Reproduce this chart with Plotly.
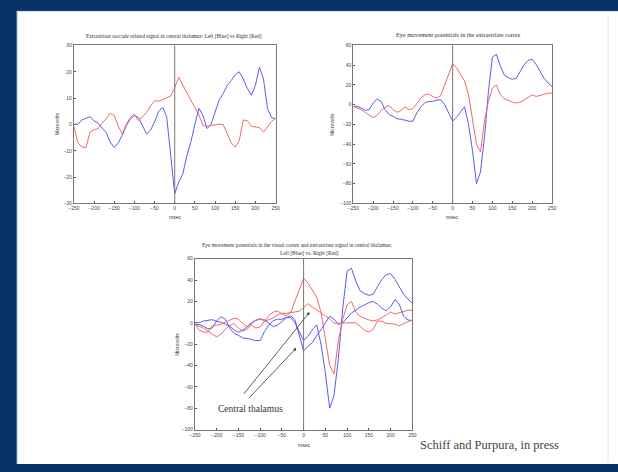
import plotly.graph_objects as go

# ---------------- data ----------------
time_ms = [-250, -240, -230, -220, -210, -200, -190, -180, -170, -160, -150,
           -140, -130, -120, -110, -100, -90, -80, -70, -60, -50, -40, -30,
           -20, -10, 0, 10, 20, 30, 40, 50, 60, 70, 80, 90, 100, 110, 120,
           130, 140, 150, 160, 170, 180, 190, 200, 210, 220, 230, 240, 250]

# central thalamus (extrastriate signal), Left = blue, Right = red
thal_left = [0, 0.1, 1.7, 2.2, 2.9, 1.4, 0.5, -1.4, -3.1, -6.7, -8.8,
             -7.0, -4.1, -0.5, 2.1, 3.4, 2.6, -0.4, -3.6, -2.2, 0.9, 4.9, 6.5,
             3.0, -12.0, -26.3, -21.9, -18.8, -12.0, -6.6, 0.0, 6.1, 3.4, -1.6,
             0.0, 4.9, 9.2, 11.7, 14.8, 16.7, 18.8, 20.0, 17.3, 13.6, 11.1,
             14.8, 21.7, 17.3, 6.1, 2.6, 2.1]
thal_right = [-0.7, -7.0, -8.6, -8.8, -2.9, -2.0, -1.6, 0.5, 2.1, 4.2, 3.4,
              -0.7, -3.6, 0.1, 2.6, 3.9, 1.4, 2.9, 4.5, 7.1, 9.0, 8.8, 9.6,
              10.1, 10.8, 14.0, 17.9, 14.8, 11.7, 9.2, 6.4, 3.6, -0.4, -0.7,
              -0.4, -0.1, 0.1, 0.0, -3.2, -7.0, -8.6, -6.1, 1.7, 1.4, -0.7,
              -0.9, -1.2, -2.9, -0.7, 1.1, 2.4]

# extrastriate cortex eye movement potentials
cortex_left = [-1.7, -1.7, -3.3, -5.7, -5.0, 1.7, 5.7, 3.3, -5.0, -10.0, -11.7,
               -14.3, -14.7, -16.0, -16.7, -16.7, -8.3, -2.3, 2.0, 3.3, 3.3, 4.7,
               5.0, 0.0, -8.3, -16.7, -12.7, -6.7, -2.0, -20.0, -46.7, -80.0,
               -68.0, -33.3, 13.3, 48.3, 51.0, 39.0, 30.0, 27.3, 25.7, 26.7,
               34.0, 40.7, 45.0, 46.0, 40.7, 33.3, 26.7, 22.0, 18.3]
cortex_right = [-1.7, -3.0, -5.0, -7.7, -10.7, -13.3, -10.7, -6.0, -2.7, -0.7,
                -5.0, -7.7, -6.0, -2.3, -5.0, -4.0, 1.3, 6.7, 10.0, 11.0, 8.3,
                6.7, 9.3, 20.0, 30.7, 41.7, 37.3, 30.0, 24.0, 10.0, -13.3, -40.0,
                -48.0, -16.7, 3.3, 16.7, 20.0, 10.0, 6.0, 4.0, 2.7, 1.7, 2.7,
                4.7, 7.3, 10.0, 8.3, 9.3, 10.7, 11.7, 11.7]

x_ticks = [-250, -200, -150, -100, -50, 0, 50, 100, 150, 200, 250]
y_ticks_thal = [-30, -20, -10, 0, 10, 20, 30]
y_ticks_ctx = [-100, -80, -60, -40, -20, 0, 20, 40, 60]

title1 = "Extrastriate saccade related signal in central thalamus: Left [Blue] vs Right [Red]"
title2 = "Eye movement potentials in the extrastriate cortex"
title3a = "Eye movement potentials in the visual cortex and extrastriate signal in central thalamus:"
title3b = "Left [Blue] vs. Right [Red]"
ylabel = "Microvolts"
xlabel = "msec"
note_label = "Central thalamus"
citation = "Schiff and Purpura, in press"

# ---------------- style ----------------
W, H = 618, 472
NAVY = "#06346a"
BLUE = "#5b5bef"
RED = "#f06a6a"
TICKFONT = dict(family="Liberation Sans", size=5, color="#444")


def px(x):
    return x / W


def py(y):
    return 1 - y / H


fig = go.Figure()

traces = [
    (thal_left, BLUE, "x", "y"), (thal_right, RED, "x", "y"),
    (cortex_left, BLUE, "x2", "y2"), (cortex_right, RED, "x2", "y2"),
    (cortex_left, BLUE, "x3", "y3"), (cortex_right, RED, "x3", "y3"),
    (thal_left, BLUE, "x3", "y3"), (thal_right, RED, "x3", "y3"),
]
for vals, col, xa, ya in traces:
    fig.add_trace(go.Scatter(x=time_ms, y=vals, mode="lines",
                             line=dict(color=col, width=1),
                             xaxis=xa, yaxis=ya, showlegend=False,
                             hoverinfo="skip"))


def xax(domain, anchor):
    return dict(domain=domain, anchor=anchor, range=[-250, 250],
                tickvals=x_ticks, ticks="inside", ticklen=2,
                tickcolor="#555", showgrid=False, zeroline=False,
                showline=True, linecolor="#777", linewidth=1, mirror=True,
                tickfont=TICKFONT)


def yax(domain, anchor, rng, tv):
    return dict(domain=domain, anchor=anchor, range=rng, tickvals=tv,
                ticks="inside", ticklen=2, tickcolor="#555",
                showgrid=False, zeroline=False, showline=True,
                linecolor="#777", linewidth=1, mirror=True,
                tickfont=TICKFONT)


fig.update_layout(
    width=W, height=H, autosize=False,
    margin=dict(l=0, r=0, t=0, b=0),
    paper_bgcolor=NAVY, plot_bgcolor="white",
    xaxis=xax([px(69), px(274)], "y"),
    yaxis=yax([py(203), py(43)], "x", [-30, 30], y_ticks_thal),
    xaxis2=xax([px(353), px(555)], "y2"),
    yaxis2=yax([py(203), py(43)], "x2", [-100, 60], y_ticks_ctx),
    xaxis3=xax([px(192), px(413)], "y3"),
    yaxis3=yax([py(432), py(259)], "x3", [-100, 60], y_ticks_ctx),
)

shapes = [
    dict(type="rect", xref="paper", yref="paper", x0=px(11), x1=1.05,
         y0=py(467), y1=py(8), fillcolor="white",
         line=dict(width=0), layer="below"),
    dict(type="line", xref="paper", yref="paper", x0=px(11), x1=1.05,
         y0=py(8.5), y1=py(8.5), line=dict(color="#c9d2de", width=1)),
    dict(type="line", xref="paper", yref="paper", x0=px(11.5), x1=px(11.5),
         y0=py(467), y1=py(8), line=dict(color="#c9d2de", width=1)),
    dict(type="line", xref="paper", yref="paper", x0=px(612), x1=px(612),
         y0=py(466), y1=py(12), line=dict(color="#e6e6e6", width=1)),
]
for xa, ya in (("x", "y"), ("x2", "y2"), ("x3", "y3")):
    shapes.append(dict(type="line", xref=xa, yref=ya + " domain", x0=0, x1=0,
                       y0=0, y1=1, line=dict(color="#777", width=1)))
fig.update_layout(shapes=shapes)

SERIF = "Liberation Serif"
ann = []


def txt(x, y, s, size, angle=0, family=SERIF, color="#333"):
    ann.append(dict(x=px(x), y=py(y), xref="paper", yref="paper", text=s,
                    showarrow=False, xanchor="center", yanchor="middle",
                    textangle=angle,
                    font=dict(family=family, size=size, color=color)))


txt(171, 33, title1, 5.4)
txt(460, 32, title2, 6.2)
txt(296, 245, title3a, 5.4)
txt(308, 253, title3b, 5.4)
txt(52, 123, ylabel, 5, angle=-90, family="Liberation Sans")
txt(332, 123, ylabel, 5, angle=-90, family="Liberation Sans")
txt(173, 346, ylabel, 5, angle=-90, family="Liberation Sans")
txt(172, 217, xlabel, 5, family="Liberation Sans")
txt(453, 217, xlabel, 5, family="Liberation Sans")
txt(303, 448, xlabel, 5, family="Liberation Sans")
txt(491, 448, citation, 12.5, color="#444")

# "Central thalamus" label with two pointer lines
ann.append(dict(x=-122, y=-81, xref="x3", yref="y3", text=note_label,
                showarrow=False, xanchor="center", yanchor="middle",
                font=dict(family=SERIF, size=9.5, color="#333")))
for hx, hy, tx, ty in ((11, 8.5, -140, -68), (-20, -25, -129, -72)):
    ann.append(dict(x=hx, y=hy, xref="x3", yref="y3", ax=tx, ay=ty,
                    axref="x3", ayref="y3", text="", showarrow=True,
                    arrowhead=7, arrowsize=0.7, arrowwidth=0.8,
                    arrowcolor="#333"))
fig.update_layout(annotations=ann)

fig.write_html("out.html")
